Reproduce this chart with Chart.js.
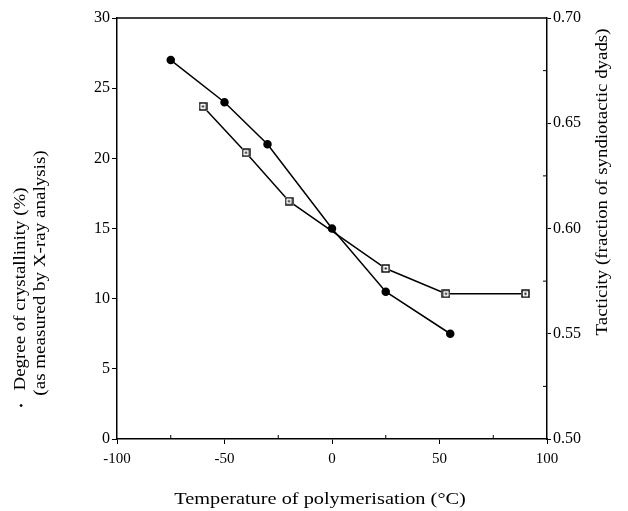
<!DOCTYPE html>
<html lang="en">
<head>
  <meta charset="UTF-8" />
  <title>Crystallinity and tacticity vs temperature</title>
  <script src="https://cdn.jsdelivr.net/npm/chart.js"></script>
  <style>
    body { margin: 0; background: #fff; }
    canvas { display: block; }
  </style>
</head>
<body>
  <canvas id="chart" width="628" height="511"></canvas>

  <script>
    // crystallinity (%) - filled circles, left axis
    const crystTemps = [-75, -50, -30, 0, 25, 55];
    const crystValues = [27, 24, 21, 15, 10.5, 7.5];

    // tacticity (fraction of syndiotactic dyads) - open squares, right axis
    // (the point at 0 °C sits under the circle, so no marker is visible there)
    const tactTemps = [-60, -40, -20, 25, 53, 90];
    const tactValues = [0.658, 0.636, 0.613, 0.581, 0.569, 0.569];

    const xMinorTicks = [-75, -25, 25, 75];
    const rightMinorTicks = [0.525, 0.575, 0.625, 0.675];

    const font = '"Liberation Serif", "DejaVu Serif", serif';

    // open square with a dot in the middle
    const sq = document.createElement('canvas');
    sq.width = 9; sq.height = 9;
    const sctx = sq.getContext('2d');
    sctx.fillStyle = '#fff';
    sctx.fillRect(0, 0, 9, 9);
    sctx.strokeStyle = '#000';
    sctx.lineWidth = 1.4;
    sctx.strokeRect(1, 1, 7, 7);
    sctx.fillStyle = '#000';
    sctx.fillRect(3.5, 3.5, 2, 2);

    const toXY = (xs, ys) => xs.map((x, i) => ({ x: x, y: ys[i] }));

    // text drawn a bit wider than normal, like the scanned original
    function wideText(ctx, text, x, y, rot, stretch) {
      ctx.save();
      ctx.translate(x, y);
      ctx.rotate(rot);
      ctx.scale(stretch, 1);
      ctx.fillText(text, 0, 0);
      ctx.restore();
    }

    const extras = {
      id: 'extras',
      afterDraw(chart) {
        const { ctx, chartArea: a, scales } = chart;
        ctx.save();
        ctx.strokeStyle = '#000';
        ctx.lineWidth = 1.5;
        ctx.beginPath();
        ctx.moveTo(a.left, a.top);
        ctx.lineTo(a.right, a.top);
        ctx.stroke();

        // small inward ticks
        ctx.lineWidth = 1;
        ctx.beginPath();
        xMinorTicks.forEach(v => {
          const px = scales.x.getPixelForValue(v);
          ctx.moveTo(px, a.bottom);
          ctx.lineTo(px, a.bottom - 4);
        });
        rightMinorTicks.forEach(v => {
          const py = scales.y2.getPixelForValue(v);
          ctx.moveTo(a.right, py);
          ctx.lineTo(a.right - 4, py);
        });
        ctx.stroke();

        // axis titles
        ctx.fillStyle = '#000';
        ctx.textAlign = 'center';
        ctx.textBaseline = 'middle';
        ctx.font = '16px ' + font;
        const up = -Math.PI / 2;
        wideText(ctx, 'Temperature of polymerisation (°C)', 320, 500, 0, 1.27);
        wideText(ctx, 'Degree of crystallinity (%)', 21, 289, up, 1.18);
        wideText(ctx, '(as measured by X-ray analysis)', 41, 273, up, 1.19);
        wideText(ctx, 'Tacticity (fraction of syndiotactic dyads)', 603, 182, up, 1.18);
        ctx.font = '12px ' + font;
        ctx.fillText('•', 21, 407);

        ctx.restore();
      }
    };

    new Chart(document.getElementById('chart'), {
      type: 'line',
      data: {
        datasets: [{
          label: 'Crystallinity',
          data: toXY(crystTemps, crystValues),
          yAxisID: 'y',
          borderColor: '#000',
          backgroundColor: '#000',
          borderWidth: 1.5,
          pointStyle: 'circle',
          pointRadius: 3.5,
          pointBackgroundColor: '#000',
          pointBorderColor: '#000',
          tension: 0
        }, {
          label: 'Tacticity',
          data: toXY(tactTemps, tactValues),
          yAxisID: 'y2',
          borderColor: '#000',
          borderWidth: 1.5,
          pointStyle: sq,
          tension: 0
        }]
      },
      options: {
        responsive: false,
        animation: false,
        layout: { padding: { top: 18, left: 0, right: 0, bottom: 0 } },
        plugins: {
          legend: { display: false },
          tooltip: { enabled: false }
        },
        scales: {
          x: {
            type: 'linear',
            min: -100,
            max: 100,
            afterFit: s => { s.height = 72; },
            ticks: {
              stepSize: 50,
              color: '#000',
              padding: 6,
              font: { family: font, size: 15 }
            },
            grid: { drawOnChartArea: false, tickLength: 5, color: '#000' },
            border: { color: '#000', width: 1.5 }
          },
          y: {
            position: 'left',
            min: 0,
            max: 30,
            afterFit: s => { s.width = 117; },
            ticks: {
              stepSize: 5,
              color: '#000',
              padding: 2,
              font: { family: font, size: 16 }
            },
            grid: { drawOnChartArea: false, tickLength: 5, color: '#000' },
            border: { color: '#000', width: 1.5 }
          },
          y2: {
            position: 'right',
            min: 0.5,
            max: 0.7,
            afterFit: s => { s.width = 81; },
            ticks: {
              stepSize: 0.05,
              color: '#000',
              padding: 2,
              font: { family: font, size: 16 },
              callback: v => v.toFixed(2)
            },
            grid: { drawOnChartArea: false, tickLength: 4, color: '#000' },
            border: { color: '#000', width: 1.5 }
          }
        }
      },
      plugins: [extras]
    });
  </script>
</body>
</html>
